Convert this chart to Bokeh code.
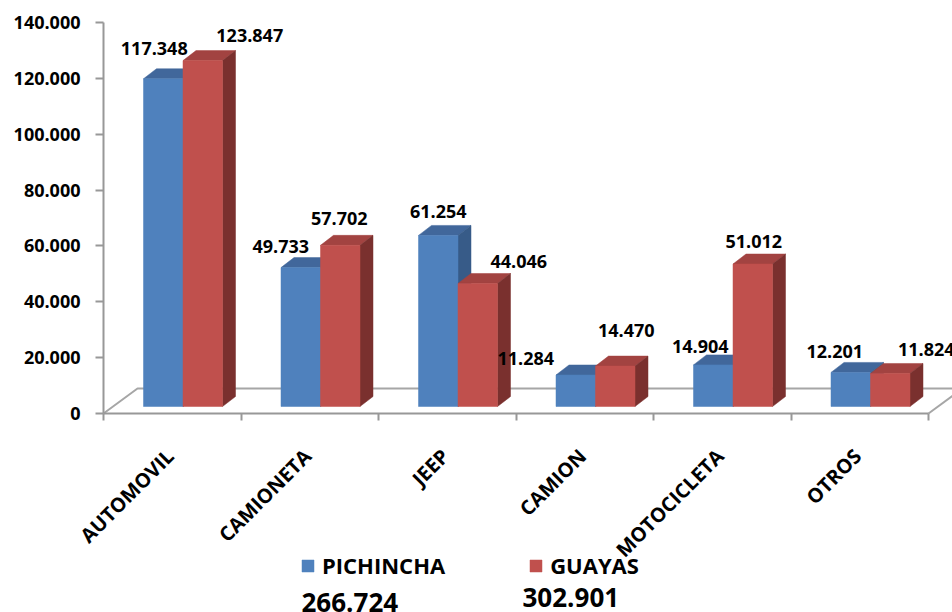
from math import pi

from bokeh.core.properties import value
from bokeh.embed import file_html
from bokeh.models import (ColumnDataSource, CustomJSTickFormatter, FixedTicker, Label,
                          Legend, LegendItem, Range1d)
from bokeh.plotting import figure
from bokeh.resources import INLINE

# ---- data -------------------------------------------------------------
categories = ["AUTOMOVIL", "CAMIONETA", "JEEP", "CAMION", "MOTOCICLETA", "OTROS"]
series_names = ["PICHINCHA", "GUAYAS"]
pichincha = [117348, 49733, 61254, 11284, 14904, 12201]
guayas = [123847, 57702, 44046, 14470, 51012, 11824]
y_ticks = [0, 20000, 40000, 60000, 80000, 100000, 120000, 140000]

# value-label nudges in screen px (dx, dy), relative to each bar's front top
pichincha_nudge = [(-9, -30), (-20, -21), (0, -24), (-50, -16), (-13, -18), (-16, -21)]
guayas_nudge = [(47, -25), (-1, -27), (41, -22), (11, -36), (1, -23), (36, -24)]

# ---- style ------------------------------------------------------------
FONT = value("Open Sans")
BLUE, BLUE_TOP, BLUE_SIDE = "#4f81bd", "#41679b", "#375b88"
RED, RED_TOP, RED_SIDE = "#c0504d", "#a24341", "#7a302e"
AXIS_GRAY = "#989898"
FLOOR_GRAY = "#a6a6a6"


def dotted(v):
    return f"{v:,}".replace(",", ".")


# ---- geometry -----------------------------------------------------------
# the frame fills the whole canvas; both axes sit at fixed data locations,
# the value axis AXIS_X px from the left and the category axis AXIS_Y px
# from the top, with TOP_Y px from the top to the highest value
W, H = 952, 612
AXIS_X, AXIS_Y, TOP_Y = 103, 413, 22
Y_MAX = y_ticks[-1]
PX_PER_CAT = 137.5
px_per_unit_y = (AXIS_Y - TOP_Y) / Y_MAX
x_start = -AXIS_X / PX_PER_CAT
x_end = (W - AXIS_X) / PX_PER_CAT
y_start = -(H - AXIS_Y) / px_per_unit_y
y_end = Y_MAX + TOP_Y / px_per_unit_y


def ux(px):
    return px / PX_PER_CAT


def uy(px):
    return px / px_per_unit_y


n = len(categories)
bar_w = ux(39.5)
first_left = ux(40)
base = uy(7)
top_dx, top_dy = ux(13), uy(10)
floor_dx, floor_dy = ux(34), uy(25)

p = figure(
    width=W, height=H,
    x_range=Range1d(x_start, x_end), y_range=Range1d(y_start, y_end),
    output_backend="svg", toolbar_location=None, min_border=0,
)
p.outline_line_color = None
p.grid.visible = False
p.background_fill_color = "white"
p.border_fill_color = "white"

# floor of the 3-D box (its front edge is the x axis line)
p.line([0, floor_dx, x_end + 1], [0, floor_dy, floor_dy], line_color=FLOOR_GRAY, line_width=2)
p.line([n, n + floor_dx], [0, floor_dy], line_color=FLOOR_GRAY, line_width=2)


def draw_series(values, offset, front, top_col, side_col):
    lefts = [i + first_left + offset for i in range(n)]
    rights = [l + bar_w for l in lefts]
    tops = [base + v for v in values]
    top_xs = [[l, r, r + top_dx, l + top_dx] for l, r in zip(lefts, rights)]
    top_ys = [[t, t, t + top_dy, t + top_dy] for t in tops]
    side_xs = [[r, r + top_dx, r + top_dx, r] for r in rights]
    side_ys = [[base, base + top_dy, t + top_dy, t] for t in tops]
    p.patches(top_xs, top_ys, fill_color=top_col, line_color=top_col, line_width=0.5)
    p.patches(side_xs, side_ys, fill_color=side_col, line_color=side_col, line_width=0.5)
    r = p.quad(left=lefts, right=rights, bottom=base, top=tops,
               fill_color=front, line_color=front, line_width=0.5)
    return r, [(l + r) / 2 for l, r in zip(lefts, rights)], tops


blue_r, px_c, px_t = draw_series(pichincha, 0, BLUE, BLUE_TOP, BLUE_SIDE)
red_r, gy_c, gy_t = draw_series(guayas, bar_w, RED, RED_TOP, RED_SIDE)

labels = ColumnDataSource(dict(
    x=px_c + gy_c,
    y=px_t + gy_t,
    text=[dotted(v) for v in pichincha + guayas],
    dx=[d[0] for d in pichincha_nudge + guayas_nudge],
    dy=[d[1] for d in pichincha_nudge + guayas_nudge],
))
p.text(x="x", y="y", text="text", x_offset="dx", y_offset="dy", source=labels,
       text_font=FONT, text_font_style="bold", text_font_size="18px",
       text_align="center", text_baseline="middle", text_color="black")

# y axis at x = 0, limited to the value range
ya = p.yaxis[0]
ya.fixed_location = 0
ya.ticker = FixedTicker(ticks=y_ticks)
ya.major_label_overrides = {t: dotted(t) for t in y_ticks}
ya.bounds = (0, Y_MAX)
ya.axis_line_color = AXIS_GRAY
ya.axis_line_width = 2
ya.major_tick_line_color = AXIS_GRAY
ya.major_tick_line_width = 2
ya.major_tick_in = 0
ya.major_tick_out = 8
ya.minor_tick_line_color = None
ya.major_label_standoff = 15
ya.major_label_text_font = "Open Sans"
ya.major_label_text_font_style = "bold"
ya.major_label_text_font_size = "18px"
ya.major_label_text_color = "black"

# x axis at value 0: a label under each bar pair,
# minor ticks on the category boundaries
xa = p.xaxis[0]
xa.fixed_location = 0
label_pos = [i + first_left + bar_w - ux(13) for i in range(n)]
xa.ticker = FixedTicker(ticks=label_pos, minor_ticks=list(range(n + 1)))
xa.formatter = CustomJSTickFormatter(args=dict(names=categories), code="return names[index]")
xa.bounds = (0, n)
xa.axis_line_color = AXIS_GRAY
xa.axis_line_width = 2
xa.major_tick_line_color = None
xa.major_tick_out = 0
xa.major_tick_in = 0
xa.minor_tick_line_color = AXIS_GRAY
xa.minor_tick_line_width = 2
xa.minor_tick_in = 0
xa.minor_tick_out = 7
xa.major_label_orientation = pi / 4
xa.major_label_standoff = 32
xa.major_label_text_font = "Open Sans"
xa.major_label_text_font_style = "bold"
xa.major_label_text_font_size = "20px"
xa.major_label_text_color = "black"

# ---- legend with series totals under the axis labels ---------------------
legend = Legend(
    items=[LegendItem(label=series_names[0], renderers=[blue_r]),
           LegendItem(label=series_names[1], renderers=[red_r])],
    location=(300, 32), orientation="horizontal",
    glyph_width=15, glyph_height=15, label_standoff=7, spacing=83,
    padding=0, margin=0, border_line_color=None, background_fill_alpha=0,
    label_text_font="Open Sans", label_text_font_style="bold",
    label_text_font_size="22px", label_text_color="black",
)
p.add_layout(legend)

totals = [sum(pichincha), sum(guayas)]
total_pos = [(301, 9.7), (522, 14.7)]
for t, (sx, sy) in zip(totals, total_pos):
    p.add_layout(Label(
        x=sx, y=sy, x_units="screen", y_units="screen", text=dotted(t),
        text_font="Open Sans", text_font_style="bold", text_font_size="26px",
        text_align="left", text_baseline="middle", text_color="black",
    ))

open("out.html", "w").write(file_html(p, INLINE))
